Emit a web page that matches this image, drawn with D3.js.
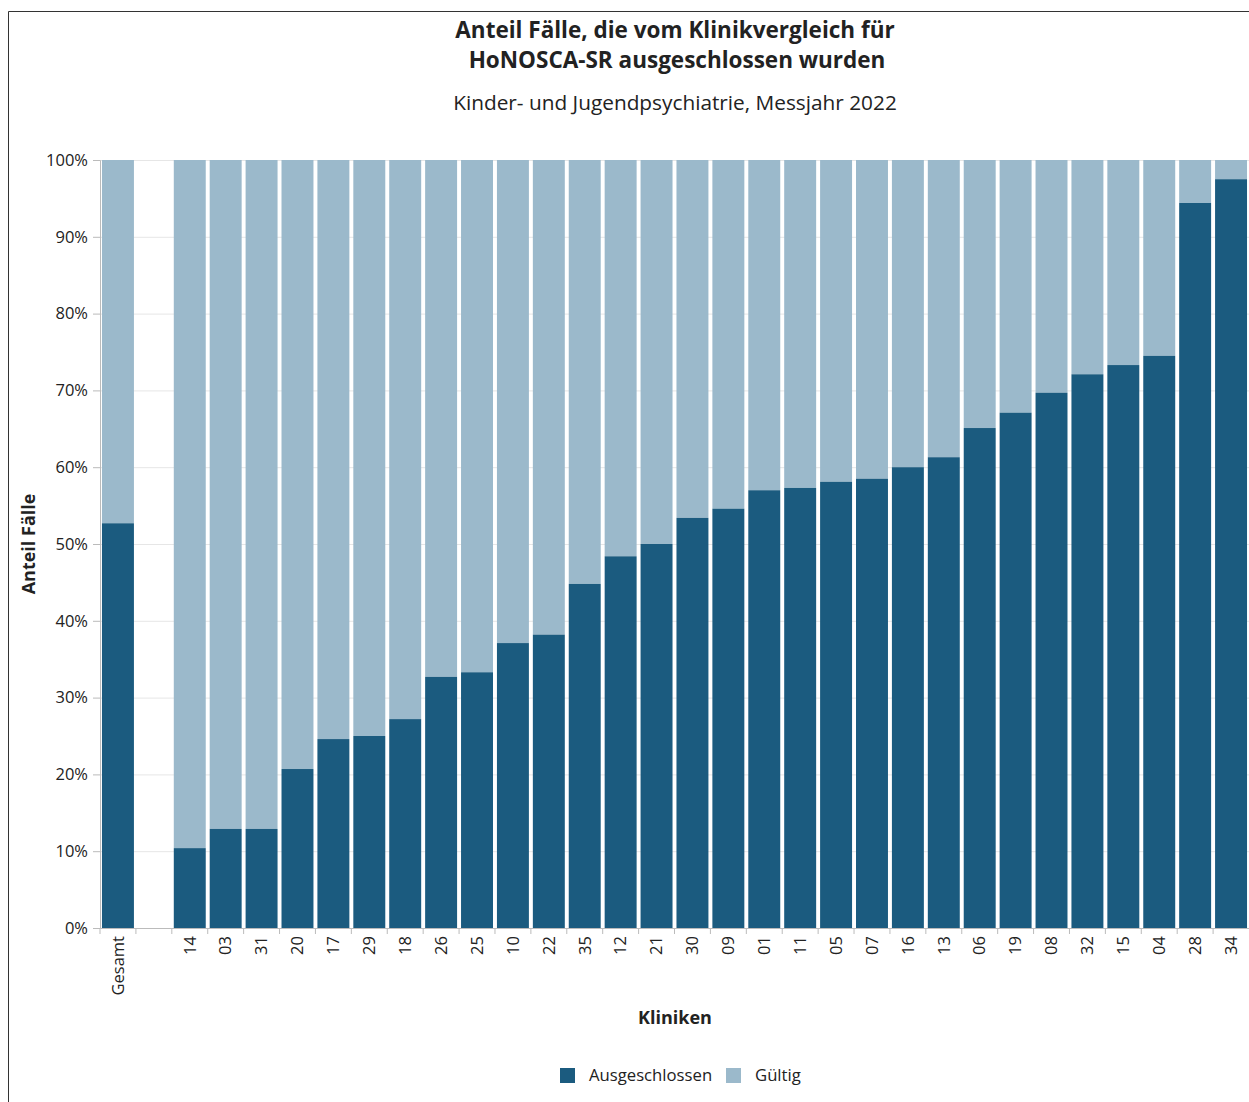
<!DOCTYPE html>
<html><head><meta charset="utf-8">
<script src="https://cdn.jsdelivr.net/npm/d3@7"></script>
<style>
body{margin:0;background:#fff;}
text{font-family:"Open Sans","Noto Sans",sans-serif;fill:#222;}
</style></head>
<body><svg id="c" width="1249" height="1102"></svg>
<script>
const categories = ["Gesamt","","14","03","31","20","17","29","18","26","25","10","22","35","12","21","30","09","01","11","05","07","16","13","06","19","08","32","15","04","28","34"];
const ausgeschlossen = [52.7,null,10.4,12.9,12.9,20.7,24.6,25.0,27.2,32.7,33.3,37.1,38.2,44.8,48.4,50.0,53.4,54.6,57.0,57.3,58.1,58.5,60.0,61.3,65.1,67.1,69.7,72.1,73.3,74.5,94.4,97.5];
const yTicks = [0,10,20,30,40,50,60,70,80,90,100];
const seriesNames = ["Ausgeschlossen","Gültig"];
const colors = ["#1b5b7f","#9bb9cb"];

const svg = d3.select("#c");
// frame
svg.append("line").attr("x1",8.5).attr("x2",8.5).attr("y1",11.5).attr("y2",1102).attr("stroke","#333");
svg.append("line").attr("x1",8.5).attr("x2",1249).attr("y1",11.5).attr("y2",11.5).attr("stroke","#333");

const x0=100, x1=1249, yTop=160, yBot=928;
const x = d3.scaleBand().domain(categories.map((c,i)=>i)).range([x0,x1]).paddingInner(0.11).paddingOuter(0.055);
const y = d3.scaleLinear().domain([0,100]).range([yBot,yTop]);

// grid
svg.append("g").selectAll("line").data(yTicks).join("line")
  .attr("x1",x0).attr("x2",x1).attr("y1",d=>y(d)+0.5).attr("y2",d=>y(d)+0.5)
  .attr("stroke","#e6e6e6");

const data = categories.map((c,i)=>({i,c,a:ausgeschlossen[i]})).filter(d=>d.a!==null);
const g = svg.append("g");
g.selectAll("rect.g").data(data).join("rect")
  .attr("x",d=>x(d.i)).attr("width",x.bandwidth())
  .attr("y",y(100)).attr("height",d=>y(d.a)-y(100)).attr("fill",colors[1]);
g.selectAll("rect.a").data(data).join("rect")
  .attr("x",d=>x(d.i)).attr("width",x.bandwidth())
  .attr("y",d=>y(d.a)).attr("height",d=>y(0)-y(d.a)).attr("fill",colors[0]);

// y axis
const ya = svg.append("g").attr("transform",`translate(${x0},0)`)
  .call(d3.axisLeft(y).tickValues(yTicks).tickFormat(d=>d+"%").tickSize(7).tickPadding(5));
ya.select(".domain").attr("stroke","#bbb");
ya.selectAll(".tick line").attr("stroke","#bbb");
ya.selectAll("text").style("font-size","16.5px").attr("fill","#222");

// x axis
const xa = svg.append("g").attr("transform",`translate(0,${yBot})`)
  .call(d3.axisBottom(x).tickFormat(i=>categories[i]).tickSize(6).tickSizeOuter(0));
xa.select(".domain").attr("stroke","#bbb");
xa.selectAll(".tick line").attr("stroke","#bbb").attr("transform",`translate(${-x.step()/2},0)`);
xa.selectAll("text").style("font-size","16.5px").attr("fill","#222")
  .attr("transform","rotate(-90)").attr("text-anchor","end")
  .attr("x",-8).attr("y",0).attr("dy","0.35em");

// titles
svg.append("text").attr("x",675).attr("y",38).attr("text-anchor","middle")
  .style("font-size","22.5px").style("font-weight","bold").text("Anteil Fälle, die vom Klinikvergleich für");
svg.append("text").attr("x",677).attr("y",68).attr("text-anchor","middle")
  .style("font-size","22.5px").style("font-weight","bold").text("HoNOSCA-SR ausgeschlossen wurden");
svg.append("text").attr("x",675).attr("y",110).attr("text-anchor","middle")
  .style("font-size","20.8px").text("Kinder- und Jugendpsychiatrie, Messjahr 2022");
svg.append("text").attr("x",675).attr("y",1024).attr("text-anchor","middle")
  .style("font-size","18px").style("font-weight","bold").text("Kliniken");
svg.append("text").attr("transform","translate(35,544) rotate(-90)").attr("text-anchor","middle")
  .style("font-size","18px").style("font-weight","bold").text("Anteil Fälle");

// legend
const leg = svg.append("g");
const legX=[560,726];
seriesNames.forEach((n,k)=>{
  leg.append("rect").attr("x",legX[k]).attr("y",1068).attr("width",15).attr("height",15).attr("fill",colors[k]);
  leg.append("text").attr("x",legX[k]+29).attr("y",1081).style("font-size","16.7px").text(n);
});
</script></body></html>
